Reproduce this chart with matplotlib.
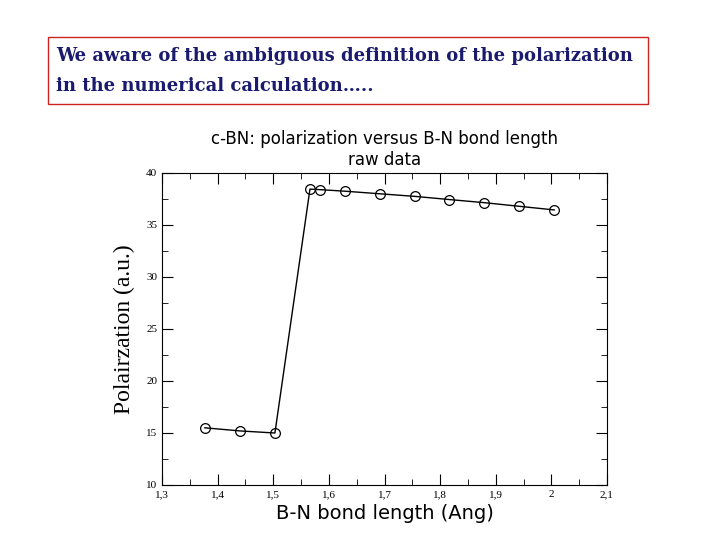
import matplotlib
matplotlib.use("Agg")
import matplotlib.pyplot as plt
from matplotlib.ticker import MultipleLocator, FuncFormatter

bond_length = [1.377, 1.440, 1.503, 1.566, 1.584, 1.629, 1.692, 1.755, 1.816, 1.879, 1.942, 2.005]
polarization = [15.5, 15.2, 15.0, 38.45, 38.4, 38.25, 38.0, 37.75, 37.45, 37.15, 36.8, 36.45]

plt.rcParams['font.family'] = ['Liberation Serif', 'DejaVu Serif']
fig = plt.figure(figsize=(7.2, 5.4), dpi=100)

fig.patches.append(plt.Rectangle((48/720, 1-104/540), (648-48)/720, (104-37)/540,
                                 transform=fig.transFigure, fill=False, edgecolor='#cc2222', lw=1))
fig.text(56/720, 1-56/540, "We aware of the ambiguous definition of the polarization",
         fontsize=13, fontweight='bold', color='#1a1a6e', va='center', family=['DejaVu Serif'])
fig.text(56/720, 1-86/540, "in the numerical calculation\u2026..",
         fontsize=13, fontweight='bold', color='#1a1a6e', va='center', family=['DejaVu Serif'])

ax = fig.add_axes([162/720, 1-485/540, (607-162)/720, (485-173)/540])
ax.plot(bond_length, polarization, color='black', lw=1, marker='o', ms=7, mfc='none', mec='black', mew=0.9)
ax.set_xlim(1.3, 2.1)
ax.set_ylim(10, 40)
ax.xaxis.set_major_locator(MultipleLocator(0.1))
ax.xaxis.set_minor_locator(MultipleLocator(0.05))
ax.yaxis.set_major_locator(MultipleLocator(5))
ax.yaxis.set_minor_locator(MultipleLocator(2.5))
ax.xaxis.set_major_formatter(FuncFormatter(lambda v, p: (f"{v:.1f}".rstrip('0').rstrip('.')).replace('.', ',')))
ax.tick_params(which='both', direction='in', top=True, right=True, labelsize=8)
ax.tick_params(which='major', length=8)
ax.tick_params(which='minor', length=4)
ax.set_xlabel("B-N bond length (Ang)", fontsize=14, family=['DejaVu Sans'], labelpad=4)
ax.set_ylabel("Polairzation (a.u.)", fontsize=17, labelpad=8)
ax.set_title("c-BN: polarization versus B-N bond length\nraw data", fontsize=12, family=['DejaVu Sans'], pad=6)

fig.savefig("out.png", dpi=100)
